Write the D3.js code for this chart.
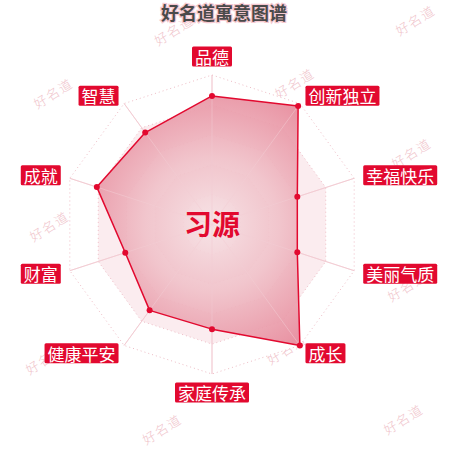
<!DOCTYPE html>
<html><head><meta charset="utf-8">
<script src="https://cdn.jsdelivr.net/npm/d3@7/dist/d3.min.js"></script>
<style>
html,body{margin:0;padding:0;background:#fff;}
svg{display:block;}
</style></head>
<body>
<svg id="chart" width="450" height="450"></svg>
<script>
const title = "好名道寓意图谱";
const centerName = "习源";
const watermarkText = "好名道";
const categories = ["品德","创新独立","幸福快乐","美丽气质","成长","家庭传承","健康平安","财富","成就","智慧"];
const values = [86, 98, 60, 60, 100, 70, 71, 61, 81, 76];
const maxValue = 100;
const ringLevels = [20, 40, 60, 80, 100];

const W = 450, H = 450;
const cx = 212, cy = 224.5, R = 149.5;
const red = "#e2092f";

const svg = d3.select("#chart");
const r = d3.scaleLinear().domain([0, maxValue]).range([0, R]);
const angle = d3.scalePoint().domain(categories).range([0, 2*Math.PI*(categories.length-1)/categories.length]);
const pt = (cat, v) => [cx + r(v)*Math.sin(angle(cat)), cy - r(v)*Math.cos(angle(cat))];

const defs = svg.append("defs");
const grad = defs.append("radialGradient").attr("id","fillGrad")
  .attr("gradientUnits","userSpaceOnUse").attr("cx",cx).attr("cy",cy).attr("r",R);
grad.append("stop").attr("offset","0%").attr("stop-color","#f6e1e4");
grad.append("stop").attr("offset","45%").attr("stop-color","#f0c0c8");
grad.append("stop").attr("offset","100%").attr("stop-color","#e68698");

// watermarks (decorative tiling)
const wm = svg.append("g");
for (let i = 0; i < 4; i++) {
  for (let j = -1; j < 4; j++) {
    const x = 53 + 120.7*i - 4*j;
    const y = 93 + 133*j - 5*i - (i % 2 ? 58 : 0);
    if (y < 5 || y > 440) continue;
    wm.append("text").attr("transform", `translate(${x},${y}) rotate(-32)`)
      .attr("text-anchor","middle").attr("dominant-baseline","central")
      .attr("font-family","'Noto Sans CJK SC'").attr("font-weight",300)
      .attr("font-size",13).attr("letter-spacing",1.5).attr("fill","#f0c4cb")
      .text(watermarkText);
  }
}

// split areas (alternating bands)
const ringPath = v => d3.line()(categories.map(c => pt(c, v))) + "Z";
const bands = svg.append("g");
ringLevels.slice().reverse().forEach((v, k) => {
  bands.append("path").attr("d", ringPath(v))
    .attr("fill", k % 2 ? "#fbecef" : "#ffffff");
});

// axis lines
svg.append("g").selectAll("line").data(categories).join("line")
  .attr("x1", cx).attr("y1", cy)
  .attr("x2", d => pt(d, maxValue)[0]).attr("y2", d => pt(d, maxValue)[1])
  .attr("stroke","#f2c7cf").attr("stroke-width",1);

// ring lines dotted
svg.append("g").selectAll("path").data(ringLevels).join("path")
  .attr("d", d => ringPath(d)).attr("fill","none")
  .attr("stroke","#eebcc5").attr("stroke-width",1).attr("stroke-dasharray","1,3");

// data polygon
const dataPts = categories.map((c, i) => pt(c, values[i]));
svg.append("path").attr("d", d3.line()(dataPts) + "Z")
  .attr("fill","url(#fillGrad)").attr("fill-opacity",0.92)
  .attr("stroke", red).attr("stroke-width",1.5).attr("stroke-linejoin","round");

// inner axis lines faint over polygon
svg.append("g").selectAll("line").data(categories).join("line")
  .attr("x1", cx).attr("y1", cy)
  .attr("x2", d => pt(d, maxValue)[0]).attr("y2", d => pt(d, maxValue)[1])
  .attr("stroke","#f4d2d8").attr("stroke-opacity",0.5).attr("stroke-width",1);

svg.append("g").selectAll("circle").data(dataPts).join("circle")
  .attr("cx", d => d[0]).attr("cy", d => d[1]).attr("r", 3).attr("fill", red);

// labels
const lab = svg.append("g");
categories.forEach(c => {
  const a = angle(c);
  const s = Math.sin(a);
  const vertical = Math.abs(s) < 0.01;
  const d = vertical ? 168 : 159;
  const x = cx + d*s, y = cy - d*Math.cos(a);
  const g = lab.append("g");
  const t = g.append("text").attr("x", x).attr("y", y)
    .attr("text-anchor", vertical ? "middle" : (s > 0 ? "start" : "end"))
    .attr("dominant-baseline","central")
    .attr("font-family","'Noto Sans CJK SC'").attr("font-size",17)
    .attr("fill","#fff").attr("dx", vertical ? 0 : (s > 0 ? 3 : -3))
    .text(c);
  const bb = t.node().getBBox();
  g.insert("rect","text").attr("x", bb.x - 3).attr("y", y - 10)
    .attr("width", bb.width + 6).attr("height", 20).attr("rx", 1.5)
    .attr("fill", red);
});

// center name
svg.append("text").attr("x", cx).attr("y", cy - 2)
  .attr("text-anchor","middle").attr("dominant-baseline","central")
  .attr("font-family","'Noto Sans CJK SC'").attr("font-weight",700)
  .attr("font-size",28).attr("fill", red).text(centerName);

// title
svg.append("text").attr("x", 224).attr("y", 12)
  .attr("text-anchor","middle").attr("dominant-baseline","central")
  .attr("font-family","'Noto Sans CJK SC'").attr("font-weight",700)
  .attr("font-size",18).attr("fill","#4a4a4a")
  .attr("stroke","#f6c9d1").attr("stroke-width",2.5).attr("paint-order","stroke")
  .text(title);
</script>
</body></html>
